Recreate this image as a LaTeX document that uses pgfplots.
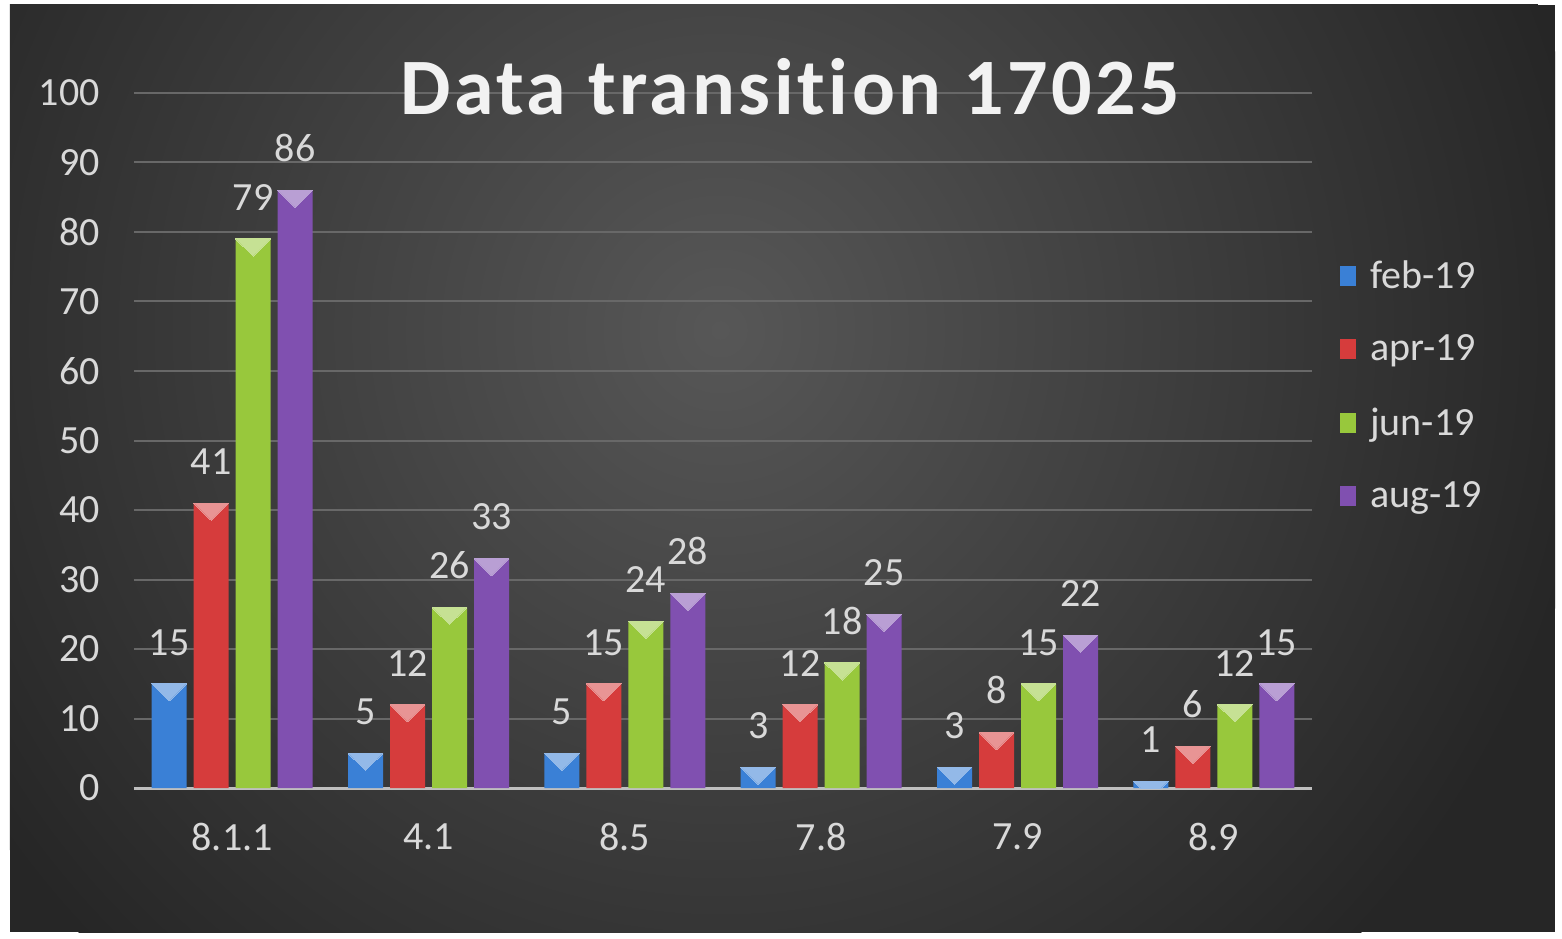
\documentclass[border=0pt]{standalone}
\usepackage{pgfplots}
\usepackage{pgfplotstable}
\pgfplotsset{compat=1.18}
\usepackage{fontspec}
\setmainfont{Carlito}
\newfontfamily\titlefont{Carlito}[LetterSpace=4.4, Ligatures=NoCommon]
\definecolor{bginner}{HTML}{575757}
\definecolor{bgouter}{HTML}{262626}
\definecolor{gridc}{HTML}{686868}
\definecolor{axisc}{HTML}{BFBFBF}
\definecolor{lbl}{HTML}{D9D9D9}
\definecolor{cblue}{HTML}{3A80D6}
\definecolor{cred}{HTML}{D63C3C}
\definecolor{cgreen}{HTML}{98C83C}
\definecolor{cpurple}{HTML}{8050B0}
\newcommand{\lblfont}{\fontsize{20}{24}\selectfont}
\pgfplotstableread{
x y
0 15
1 5
2 5
3 3
4 3
5 1
}\feb
\pgfplotstableread{
x y
0 41
1 12
2 15
3 12
4 8
5 6
}\apr
\pgfplotstableread{
x y
0 79
1 26
2 24
3 18
4 15
5 12
}\jun
\pgfplotstableread{
x y
0 86
1 33
2 28
3 25
4 22
5 15
}\aug
\pgfplotsset{
  barstyle/.style n args={2}{ybar, bar width=17.5pt, bar shift=#2, draw=none, fill=#1,
    nodes near coords,
    every node near coord/.append style={font=\lblfont, text=lbl, anchor=south, inner sep=0pt, xshift=#2, yshift=14pt}},
  bartop/.style n args={2}{sharp plot, only marks, forget plot, mark=triangle*, mark size=10pt,
    mark options={draw=#1!55!white, line width=0pt, fill=#1!55!white, xshift=#2, yshift=-2.85pt, rotate=180, yscale=0.57}},
}
\begin{document}
\begin{tikzpicture}
\fill[white] (-67pt,-75pt) rectangle (714pt,394pt);
\fill[bgouter] (-62pt,-72pt) rectangle (710.5pt,391.5pt);
\begin{scope}
\clip (-62pt,-72pt) rectangle (710.5pt,391.5pt);
\shade[inner color=bginner, outer color=bgouter] (293pt,229pt) circle (440pt);
\end{scope}
\begin{axis}[
  at={(0pt,0pt)}, anchor=south west, scale only axis,
  width=589pt, height=347.5pt,
  xmin=-0.5, xmax=5.5, ymin=0, ymax=100,
  xtick={0,...,5}, xticklabels={8.1.1,4.1,8.5,7.8,7.9,8.9},
  ytick={0,10,...,100},
  axis x line*=bottom, axis y line*=left,
  x axis line style={draw=axisc, line width=1.5pt},
  y axis line style={draw=none},
  major tick length=0pt, tick style={draw=none},
  ymajorgrids, grid style={draw=gridc, line width=1pt},
  /pgf/number format/assume math mode=true,
  ticklabel style={font=\lblfont, text=lbl},
  yticklabel style={anchor=east, inner sep=0pt, xshift=-17pt},
  xticklabel style={anchor=north, inner sep=0pt, yshift=-17.5pt},
  title={\titlefont Data transition 17025},
  title style={at={(0.5,0.952)}, anchor=base, xshift=33.5pt, font=\fontsize{40}{48}\selectfont\bfseries, text=white!95!black},
  clip marker paths=true,
  legend image code/.code={\path (0pt,-5pt) rectangle (8pt,5pt); \path[fill=none,draw=none] (13pt,0pt);},
  legend style={at={(1,0.579)}, anchor=west, xshift=14pt, draw=none, fill=none, inner sep=0pt, font=\lblfont, text=lbl, row sep=17.8pt, cells={anchor=west}},
]
\addplot[barstyle={cblue}{-31.5pt}] table {\feb};
\addplot[barstyle={cred}{-10.5pt}] table {\apr};
\addplot[barstyle={cgreen}{10.5pt}] table {\jun};
\addplot[barstyle={cpurple}{31.5pt}] table {\aug};
\addplot[bartop={cblue}{-31.5pt}] table {\feb};
\addplot[bartop={cred}{-10.5pt}] table {\apr};
\addplot[bartop={cgreen}{10.5pt}] table {\jun};
\addplot[bartop={cpurple}{31.5pt}] table {\aug};
\legend{feb-19,apr-19,jun-19,aug-19}
\end{axis}
\end{tikzpicture}
\end{document}
